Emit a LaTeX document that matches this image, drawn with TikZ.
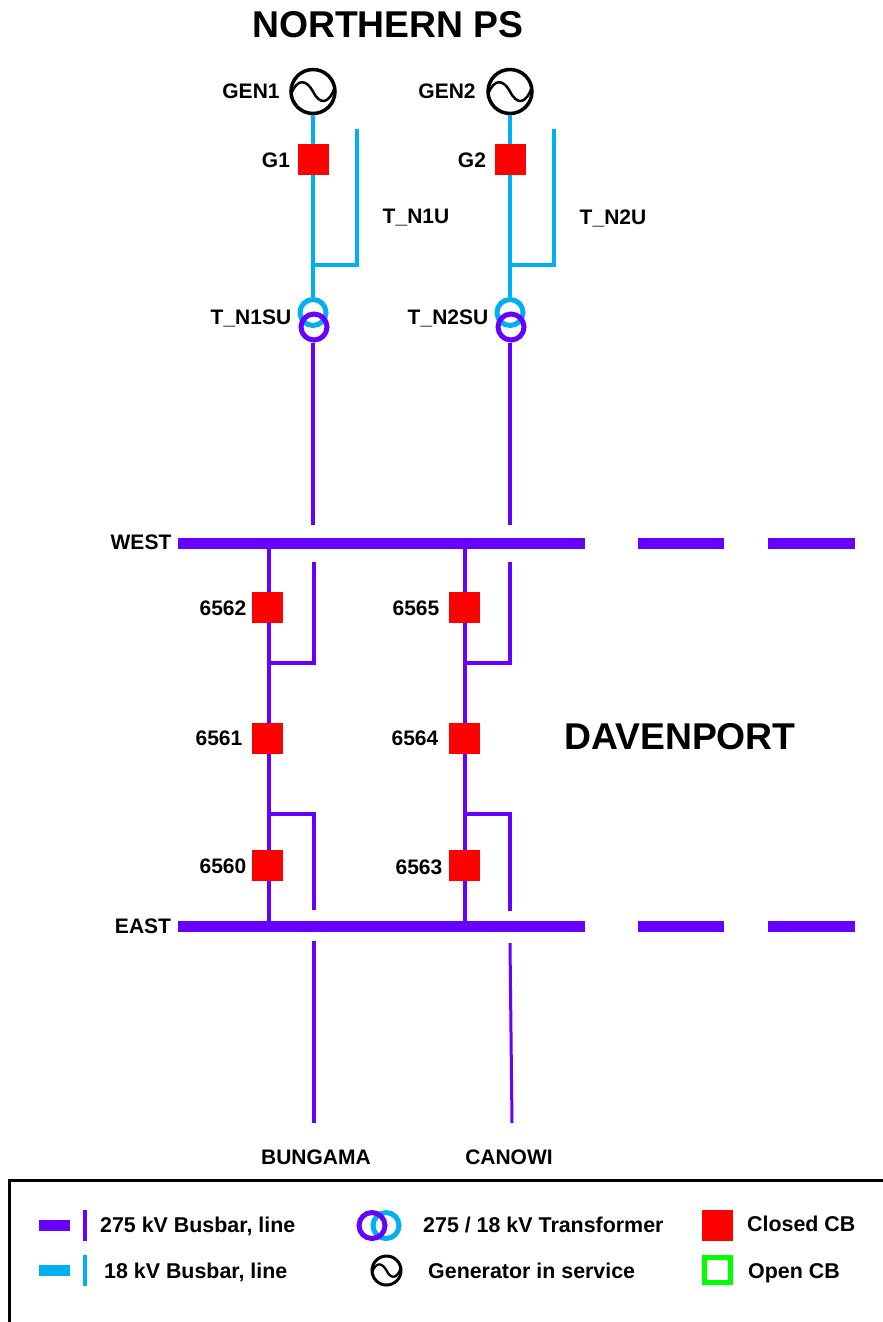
\documentclass[tikz,border=0pt]{standalone}
\usepackage{fontspec}
\setmainfont{Liberation Sans}
\usetikzlibrary{calc}
\definecolor{hv}{HTML}{6600FF}
\definecolor{lv}{HTML}{00B0F0}
\definecolor{cbred}{HTML}{FF0000}
\definecolor{cbgreen}{HTML}{00FF00}
\tikzset{
  lab/.style={font=\fontsize{21}{23}\bfseries\selectfont,text=black,inner sep=0pt},
  leg/.style={font=\fontsize{21.4}{23}\bfseries\selectfont,text=black,inner sep=0pt,anchor=west},
  big/.style={font=\fontsize{37.3}{40}\bfseries\selectfont,text=black,inner sep=0pt},
  cb/.style={rectangle,fill=cbred,minimum size=31pt,inner sep=0pt,outer sep=0pt},
  opencb/.style={rectangle,draw=cbgreen,line width=5pt,minimum width=26pt,minimum height=25pt,inner sep=0pt,outer sep=0pt},
  gen/.style={circle,draw=black,line width=3.5pt,minimum size=44pt,inner sep=0pt,outer sep=1.75pt},
  lgen/.style={circle,draw=black,line width=3pt,minimum size=29pt,inner sep=0pt,outer sep=1.5pt},
  tr/.style={circle,line width=5pt,minimum size=26pt,inner sep=0pt,outer sep=2.5pt},
  bus/.style={rectangle,fill=hv,minimum height=11pt,inner sep=0pt,outer sep=0pt},
  hvline/.style={draw=hv,line width=4pt},
  lvline/.style={draw=lv,line width=4.5pt},
  sine/.style={draw=black,line width=2.5pt},
}
\newcommand{\genwave}[3]{%
  \draw[sine,line width=#3*2.5pt] ($(#1.center)+(-#2,#2*0.13)$) .. controls ($(#1.center)+(-#2*0.72,-#2*0.62)$) and ($(#1.center)+(-#2*0.3,-#2*0.55)$) .. (#1.center)
    .. controls ($(#1.center)+(#2*0.3,#2*0.6)$) and ($(#1.center)+(#2*0.72,#2*0.62)$) .. ($(#1.center)+(#2,-#2*0.22)$);}
\begin{document}
\begin{tikzpicture}[x=1pt,y=-1pt]
\useasboundingbox (0,0) rectangle (883,1322);
\fill[white] (0,0) rectangle (883,1322);

% titles
\node[big] (title) at (388,25) {NORTHERN PS};
\node[big] (dav) at (680,737) {DAVENPORT};

% busbars
\node[bus,minimum width=407pt] (west) at (381.5,543.5) {};
\node[bus,minimum width=86pt] (west2) at (681,543.5) {};
\node[bus,minimum width=87pt] (west3) at (811.5,543.5) {};
\node[bus,minimum width=407pt] (east) at (381.5,926.5) {};
\node[bus,minimum width=86pt] (east2) at (681,926.5) {};
\node[bus,minimum width=87pt] (east3) at (811.5,926.5) {};
\node[lab] (lwest) at (141,542) {WEST};
\node[lab] (least) at (143,926) {EAST};

% generators
\node[gen] (gen1) at (313,91.5) {};
\node[gen] (gen2) at (510,91.5) {};
\genwave{gen1}{22}{1}
\genwave{gen2}{22}{1}
\node[lab] (lgen1) at (251,91) {GEN1};
\node[lab] (lgen2) at (447,91) {GEN2};

% generator breakers
\node[cb] (g1) at (313.5,159.5) {};
\node[cb] (g2) at (510.5,159.5) {};
\node[lab] (lg1) at (276,160) {G1};
\node[lab] (lg2) at (472,160) {G2};

% transformers
\node[tr,draw=lv] (t1l) at (313,312.5) {};
\node[tr,draw=hv] (t1h) at (314,327) {};
\node[tr,draw=lv] (t2l) at (510,312.5) {};
\node[tr,draw=hv] (t2h) at (511,327) {};
\node[lab] (lt1s) at (251,318) {T\_N1SU};
\node[lab] (lt2s) at (448,318) {T\_N2SU};
\node[lab] (lt1u) at (416,218) {T\_N1U};
\node[lab] (lt2u) at (613,218) {T\_N2U};

% unit connections
\coordinate (u1top) at (356.5,129);
\coordinate (u1bot) at (356.5,265);
\coordinate (u1j) at (313,265);
\coordinate (u2top) at (553.5,129);
\coordinate (u2bot) at (553.5,265);
\coordinate (u2j) at (510,265);
\draw[lvline] (gen1.south) -- (g1.north -| gen1.south);
\draw[lvline] (g1.south -| gen1.south) -- (t1l.north);
\draw[lvline] (gen2.south) -- (g2.north -| gen2.south);
\draw[lvline] (g2.south -| gen2.south) -- (t2l.north);
\draw[lvline,line width=4pt,line join=miter] (u1top) -- (u1bot) -- (u1j);
\draw[lvline,line width=4pt,line join=miter] (u2top) -- (u2bot) -- (u2j);

% lines to WEST bus
\coordinate (w1end) at (313,525);
\coordinate (w2end) at (510,525);
\draw[hvline] (t1h.south -| w1end) -- (w1end);
\draw[hvline] (t2h.south -| w2end) -- (w2end);

% diameters
\node[cb] (c6562) at (267.5,607.5) {};
\node[cb] (c6561) at (267.5,738.5) {};
\node[cb] (c6560) at (267.5,865.5) {};
\node[cb] (c6565) at (464.5,607.5) {};
\node[cb] (c6564) at (464.5,738.5) {};
\node[cb] (c6563) at (464.5,865.5) {};
\node[lab] (l6562) at (223,608) {6562};
\node[lab] (l6561) at (219,738) {6561};
\node[lab] (l6560) at (223,866) {6560};
\node[lab] (l6565) at (416,608) {6565};
\node[lab] (l6564) at (415,738) {6564};
\node[lab] (l6563) at (419,867) {6563};

\coordinate (bayA) at (269,0);
\coordinate (bayB) at (465,0);
\foreach \bay/\a/\b/\c in {bayA/c6562/c6561/c6560,bayB/c6565/c6564/c6563}{
  \draw[hvline] (west.south -| \bay) -- (\a.north -| \bay);
  \draw[hvline] (\a.south -| \bay) -- (\b.north -| \bay);
  \draw[hvline] (\b.south -| \bay) -- (\c.north -| \bay);
  \draw[hvline] (\c.south -| \bay) -- (east.north -| \bay);
}
% teed feeders
\coordinate (a1) at (314,562); \coordinate (a2) at (314,663); \coordinate (a3) at (269,663);
\coordinate (a4) at (269,814); \coordinate (a5) at (314,814); \coordinate (a6) at (314,910);
\coordinate (b1) at (510,562); \coordinate (b2) at (510,663); \coordinate (b3) at (465,663);
\coordinate (b4) at (465,814); \coordinate (b5) at (510,814); \coordinate (b6) at (510,911);
\draw[hvline,line width=3.8pt] (a1) -- (a2) -- (a3);
\draw[hvline,line width=3.8pt] (a4) -- (a5) -- (a6);
\draw[hvline,line width=3.8pt] (b1) -- (b2) -- (b3);
\draw[hvline,line width=3.8pt] (b4) -- (b5) -- (b6);

% outgoing lines
\coordinate (bs) at (314,941); \coordinate (be) at (314,1123);
\coordinate (cs) at (510,943); \coordinate (ce) at (512,1123);
\draw[hvline] (bs) -- (be);
\draw[hvline,line width=3pt] (cs) -- (ce);
\node[lab] (lbun) at (316,1157) {BUNGAMA};
\node[lab] (lcan) at (509,1157) {CANOWI};

% legend frame
\coordinate (fa) at (883,1180); \coordinate (fb) at (9.5,1180); \coordinate (fc) at (9.5,1322);
\draw[black,line width=3pt,line join=miter] (fa) -- (fb) -- (fc);

% legend items
\node[rectangle,fill=hv,minimum width=31pt,minimum height=11pt,inner sep=0pt] (k1) at (54.5,1225.5) {};
\coordinate (k1a) at (85,1210); \coordinate (k1b) at (85,1241);
\draw[hvline,line width=3.5pt] (k1a) -- (k1b);
\node[leg] (t1) at (100,1226) {275 kV Busbar, line};
\node[rectangle,fill=lv,minimum width=31pt,minimum height=11pt,inner sep=0pt] (k2) at (54.5,1270.5) {};
\coordinate (k2a) at (85,1255); \coordinate (k2b) at (85,1286);
\draw[lvline,line width=3.5pt] (k2a) -- (k2b);
\node[leg] (t2) at (104,1272) {18 kV Busbar, line};

\node[tr,draw=lv] (k3l) at (386,1225.5) {};
\node[tr,draw=hv] (k3h) at (372,1225.5) {};
\node[leg] (t3) at (423,1225) {275 / 18 kV Transformer};
\node[lgen] (k4) at (386.5,1270.5) {};
\genwave{k4}{14.5}{0.9}
\node[leg] (t4) at (428,1271) {Generator in service};

\node[cb] (k5) at (717.5,1225.5) {};
\node[leg] (t5) at (747,1224) {Closed CB};
\node[opencb] (k6) at (717.5,1270) {};
\node[leg] (t6) at (748,1273) {Open CB};
\end{tikzpicture}
\end{document}
